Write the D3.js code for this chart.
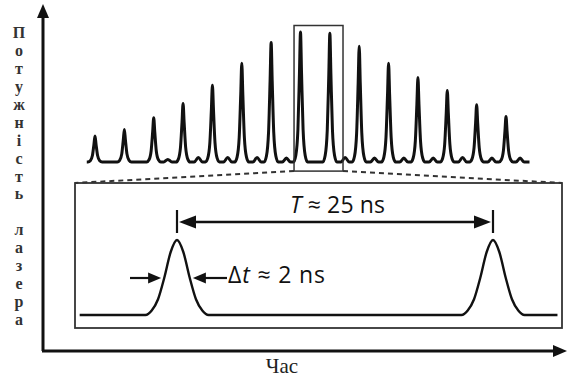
<!DOCTYPE html>
<html>
<head>
<meta charset="utf-8">
<script src="https://cdn.jsdelivr.net/npm/d3@7.9.0/dist/d3.min.js"></script>
<style>
  html, body { margin: 0; padding: 0; background: #fff; }
  svg { display: block; }
</style>
</head>
<body>
<svg width="568" height="380"></svg>
<script>
// pulse train: peak times (ns) and relative power
const pulseTimes = [0, 25, 50, 75, 100, 125, 150, 175, 200, 225, 250, 275, 300, 325, 350];
const pulsePower = [0.20, 0.25, 0.34, 0.45, 0.59, 0.76, 0.92, 1.0, 0.99, 0.89, 0.76, 0.65, 0.55, 0.44, 0.35];

// small satellite bumps between the pulses
const bumpTimes = [62, 88, 113, 138, 163, 213, 238, 263, 288, 313, 338, 362];
const bumpPower = [0.02, 0.035, 0.035, 0.035, 0.03, 0.035, 0.03, 0.03, 0.03, 0.035, 0.03, 0.03];

// shape of one spike: offset from its peak (ns) and fraction of peak
const spikeOffsets = [-6, -4, -2.2, -0.9, 0, 0.9, 2.2, 4, 6];
const spikeLevels = [0, 0.05, 0.25, 0.68, 1, 0.68, 0.25, 0.05, 0];
const bumpOffsets = [-3.5, 0, 3.5];
const bumpLevels = [0, 1, 0];
const traceRange = [-7, 370];

// zoomed window of the train (ns) and its height
const zoomWindow = [169.5, 211.2];
const zoomLevels = [-0.07, 1.05];

// inset: two pulses one period apart
const insetPeaks = [0, 25];
const insetOffsets = [-2.5, -2, -1.5, -1, -0.5, 0, 0.5, 1, 1.5, 2, 2.5];
const insetLevels = [0, 0.06, 0.21, 0.5, 0.84, 1, 0.84, 0.5, 0.21, 0.06, 0];
const insetRange = [-7.7, 30.1];
const fwhm = [-1.1, 1.1];

const yLabel = 'Потужність лазера';
const xLabel = 'Час';
const periodLabel = ['T', ' ≈ 25 ns'];
const widthLabel = ['Δ', 't', ' ≈ 2 ns'];

const svg = d3.select('svg');
const ink = '#111';

let x = d3.scaleLinear().domain([0, 350]).range([95, 506]);
let y = d3.scaleLinear().domain([0, 1]).range([162, 32]);
let xi = d3.scaleLinear().domain([0, 25]).range([177, 493]);
let yi = d3.scaleLinear().domain([0, 1]).range([315, 240]);

function arrowHead(g, tipX, tipY, dir, len, half) {
  let pts;
  if (dir === 'right') pts = [[tipX, tipY], [tipX - len, tipY - half], [tipX - len, tipY + half]];
  if (dir === 'left') pts = [[tipX, tipY], [tipX + len, tipY - half], [tipX + len, tipY + half]];
  if (dir === 'up') pts = [[tipX, tipY], [tipX - half, tipY + len], [tipX + half, tipY + len]];
  g.append('path').attr('d', 'M' + pts.join('L') + 'Z').attr('fill', ink);
}

// axes (plain arrows, no ticks)
const axes = svg.append('g');
axes.append('line').attr('x1', 43).attr('y1', 351).attr('x2', 43).attr('y2', 14)
  .attr('stroke', ink).attr('stroke-width', 3);
axes.append('line').attr('x1', 42).attr('y1', 351).attr('x2', 556).attr('y2', 351)
  .attr('stroke', ink).attr('stroke-width', 3);
arrowHead(axes, 43, 4, 'up', 14, 6);
arrowHead(axes, 567, 351, 'right', 14, 6);

// vertical label, one letter per row
let letters = Array.from(yLabel);
svg.append('g').selectAll('text')
  .data(letters)
  .join('text')
  .attr('x', 19)
  .attr('y', (d, i) => 38 + i * 17.94)
  .attr('text-anchor', 'middle')
  .attr('font-family', 'Liberation Serif')
  .attr('font-weight', 'bold')
  .attr('font-size', 16)
  .attr('fill', '#333')
  .text((d) => d);

svg.append('text')
  .attr('x', 282).attr('y', 373)
  .attr('text-anchor', 'middle')
  .attr('font-family', 'Liberation Serif')
  .attr('font-size', 21)
  .attr('fill', '#222')
  .text(xLabel);

// build the train trace
let trace = [[traceRange[0], 0]];
pulseTimes.forEach((t, i) => {
  spikeOffsets.forEach((o, k) => trace.push([t + o, pulsePower[i] * spikeLevels[k]]));
});
bumpTimes.forEach((t, i) => {
  bumpOffsets.forEach((o, k) => trace.push([t + o, bumpPower[i] * bumpLevels[k]]));
});
trace.push([traceRange[1], 0]);
trace.sort((a, b) => a[0] - b[0]);

let trainLine = d3.line()
  .x((d) => x(d[0]))
  .y((d) => y(d[1]))
  .curve(d3.curveMonotoneX);

svg.append('path')
  .attr('d', trainLine(trace))
  .attr('fill', 'none')
  .attr('stroke', ink)
  .attr('stroke-width', 3)
  .attr('stroke-linejoin', 'round');

// zoom box on the train
let zx0 = x(zoomWindow[0]), zx1 = x(zoomWindow[1]);
let zy0 = y(zoomLevels[1]), zy1 = y(zoomLevels[0]);
svg.append('rect')
  .attr('x', zx0).attr('y', zy0)
  .attr('width', zx1 - zx0).attr('height', zy1 - zy0)
  .attr('fill', 'none').attr('stroke', '#333').attr('stroke-width', 1.5);

// inset frame
const inset = { x0: 75, y0: 183, x1: 562, y1: 328 };
svg.append('rect')
  .attr('x', inset.x0).attr('y', inset.y0)
  .attr('width', inset.x1 - inset.x0).attr('height', inset.y1 - inset.y0)
  .attr('fill', 'none').attr('stroke', '#333').attr('stroke-width', 1.8);

// dashed connectors
[[zx0, inset.x0], [zx1, inset.x1]].forEach(([a, b]) => {
  svg.append('line')
    .attr('x1', a).attr('y1', zy1).attr('x2', b).attr('y2', inset.y0)
    .attr('stroke', '#333').attr('stroke-width', 2)
    .attr('stroke-dasharray', '5,4');
});

// inset pulses
let insetTrace = [[insetRange[0], 0]];
insetPeaks.forEach((t) => {
  insetOffsets.forEach((o, k) => insetTrace.push([t + o, insetLevels[k]]));
});
insetTrace.push([insetRange[1], 0]);

let insetLine = d3.line()
  .x((d) => xi(d[0]))
  .y((d) => yi(d[1]))
  .curve(d3.curveMonotoneX);

svg.append('path')
  .attr('d', insetLine(insetTrace))
  .attr('fill', 'none')
  .attr('stroke', ink)
  .attr('stroke-width', 2.4);

// period marker
const ann = svg.append('g');
insetPeaks.forEach((t) => {
  ann.append('line')
    .attr('x1', xi(t)).attr('x2', xi(t))
    .attr('y1', 210).attr('y2', 233)
    .attr('stroke', ink).attr('stroke-width', 2.2);
});
ann.append('line')
  .attr('x1', xi(insetPeaks[0]) + 10).attr('x2', xi(insetPeaks[1]) - 10)
  .attr('y1', 222).attr('y2', 222)
  .attr('stroke', ink).attr('stroke-width', 2.4);
arrowHead(ann, xi(insetPeaks[0]) + 2, 222, 'left', 17, 6.5);
arrowHead(ann, xi(insetPeaks[1]) - 2, 222, 'right', 17, 6.5);

// pulse width marker
let wy = yi(0.5) + 0.5;
ann.append('line')
  .attr('x1', 130).attr('x2', xi(fwhm[0]) - 8)
  .attr('y1', wy).attr('y2', wy)
  .attr('stroke', ink).attr('stroke-width', 2.2);
arrowHead(ann, xi(fwhm[0]) - 2, wy, 'right', 13, 5.5);
ann.append('line')
  .attr('x1', xi(fwhm[1]) + 8).attr('x2', 227)
  .attr('y1', wy).attr('y2', wy)
  .attr('stroke', ink).attr('stroke-width', 2.2);
arrowHead(ann, xi(fwhm[1]) + 2, wy, 'left', 13, 5.5);

let tText = ann.append('text')
  .attr('x', 290).attr('y', 213)
  .attr('font-family', 'Open Sans')
  .attr('font-size', 23)
  .attr('fill', ink)
  .attr('textLength', 95)
  .attr('lengthAdjust', 'spacing')
  .attr('xml:space', 'preserve');
tText.append('tspan').attr('font-style', 'italic').text(periodLabel[0]);
tText.append('tspan').text(periodLabel[1]);

let wText = ann.append('text')
  .attr('x', 228).attr('y', 283)
  .attr('font-family', 'Open Sans')
  .attr('font-size', 23)
  .attr('fill', ink)
  .attr('textLength', 97)
  .attr('lengthAdjust', 'spacing')
  .attr('xml:space', 'preserve');
wText.append('tspan').text(widthLabel[0]);
wText.append('tspan').attr('font-style', 'italic').text(widthLabel[1]);
wText.append('tspan').text(widthLabel[2]);
</script>
</body>
</html>
